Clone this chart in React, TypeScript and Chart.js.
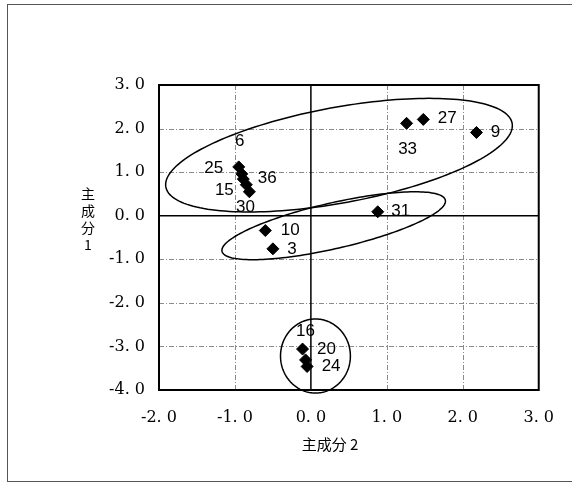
import React, { useEffect, useRef } from "react";
import { Chart, registerables } from "chart.js";

Chart.register(...registerables);

// sample numbers (principal component scores)
const sampleIds = ["6", "25", "36", "15", "30", "10", "3", "31", "33", "27", "9", "16", "20", "24"];
const pc2Values = [-0.95, -0.91, -0.89, -0.85, -0.81, -0.6, -0.5, 0.88, 1.26, 1.48, 2.18, -0.11, -0.07, -0.05];
const pc1Values = [1.12, 0.96, 0.84, 0.71, 0.55, -0.34, -0.76, 0.09, 2.12, 2.21, 1.91, -3.06, -3.31, -3.46];

// label placement (pixel offsets from each point) – styling only
const labelOffsets: [number, number][] = [
  [1, -26], [-28, -6], [24, -1], [-22, 6], [-4, 16], [25, 0], [19, 0],
  [23, 0], [1, 26], [24, -1], [19, 0], [3, -18], [21, -11], [24, 0],
];

// grouping ellipses in data units: center, conjugate semi-axis vectors
const groupCenters: [number, number][] = [[0.37, 1.39], [0.3, -0.23], [0.06, -3.22]];
const groupAxisU: [number, number][] = [[2.28, 0.73], [1.47, 0.59], [0.46, 0]];
const groupAxisV: [number, number][] = [[-0.11, 1.08], [-0.07, 0.51], [0, 0.85]];

const xMin = -2, xMax = 3, yMin = -4, yMax = 3;
const xTitle = "主成分 2";
const yTitleChars = ["主", "成", "分", "1"];

const fmt = (v: number) => {
  const s = v.toFixed(1);
  return s.replace(".", ". ");
};

const decorPlugin = {
  id: "decor",
  beforeDraw(chart: any) {
    const ctx = chart.ctx;
    ctx.save();
    ctx.fillStyle = "#fff";
    ctx.fillRect(0, 0, chart.width, chart.height);
    ctx.strokeStyle = "#555";
    ctx.lineWidth = 1;
    ctx.strokeRect(7.5, 4.5, chart.width + 10, 477);
    ctx.restore();
  },
  beforeDatasetsDraw(chart: any) {
    const ctx = chart.ctx;
    const xs = chart.scales.x;
    const ys = chart.scales.y;
    const a = chart.chartArea;
    ctx.save();
    // gridlines
    ctx.strokeStyle = "#8a8a8a";
    ctx.lineWidth = 1;
    ctx.setLineDash([5, 2, 1, 2]);
    for (let v = xMin + 1; v < xMax; v++) {
      if (v === 0) continue;
      const px = Math.round(xs.getPixelForValue(v)) + 0.5;
      ctx.beginPath();
      ctx.moveTo(px, a.top);
      ctx.lineTo(px, a.bottom);
      ctx.stroke();
    }
    for (let v = yMin + 1; v < yMax; v++) {
      if (v === 0) continue;
      const py = Math.round(ys.getPixelForValue(v)) + 0.5;
      ctx.beginPath();
      ctx.moveTo(a.left, py);
      ctx.lineTo(a.right, py);
      ctx.stroke();
    }
    ctx.setLineDash([]);
    // zero axes
    ctx.strokeStyle = "#000";
    ctx.lineWidth = 1.5;
    const x0 = xs.getPixelForValue(0);
    const y0 = ys.getPixelForValue(0);
    ctx.beginPath();
    ctx.moveTo(x0, a.top);
    ctx.lineTo(x0, a.bottom);
    ctx.moveTo(a.left, y0);
    ctx.lineTo(a.right, y0);
    ctx.stroke();
    // frame
    ctx.lineWidth = 2;
    ctx.strokeRect(a.left, a.top, a.right - a.left, a.bottom - a.top);
    // ellipses
    ctx.lineWidth = 1.5;
    for (let g = 0; g < groupCenters.length; g++) {
      const [cx, cy] = groupCenters[g];
      const [ux, uy] = groupAxisU[g];
      const [vx, vy] = groupAxisV[g];
      ctx.beginPath();
      for (let i = 0; i <= 180; i++) {
        const t = (i / 180) * Math.PI * 2;
        const dx = cx + ux * Math.cos(t) + vx * Math.sin(t);
        const dy = cy + uy * Math.cos(t) + vy * Math.sin(t);
        const px = xs.getPixelForValue(dx);
        const py = ys.getPixelForValue(dy);
        if (i === 0) ctx.moveTo(px, py);
        else ctx.lineTo(px, py);
      }
      ctx.closePath();
      ctx.stroke();
    }
    ctx.restore();
  },
  afterDatasetsDraw(chart: any) {
    const ctx = chart.ctx;
    const meta = chart.getDatasetMeta(0);
    ctx.save();
    ctx.fillStyle = "#000";
    ctx.font = '17px "Liberation Sans", Arial, sans-serif';
    ctx.textAlign = "center";
    ctx.textBaseline = "middle";
    meta.data.forEach((el: any, i: number) => {
      const [ox, oy] = labelOffsets[i];
      ctx.fillText(sampleIds[i], el.x + ox, el.y + oy);
    });
    // axis titles
    ctx.font = '15px "Noto Sans CJK JP", sans-serif';
    ctx.fillText(xTitle, 330, 444);
    ctx.font = '14px "Noto Sans CJK JP", sans-serif';
    const ys0 = [194, 211, 228, 245];
    yTitleChars.forEach((c, i) => ctx.fillText(c, 88, ys0[i]));
    ctx.restore();
  },
};

export default function App() {
  const ref = useRef<HTMLCanvasElement | null>(null);
  useEffect(() => {
    if (!ref.current) return;
    const chart = new Chart(ref.current, {
      type: "scatter",
      data: {
        datasets: [
          {
            data: pc2Values.map((x, i) => ({ x, y: pc1Values[i] })),
            pointStyle: "rectRot",
            pointRadius: 6,
            pointHoverRadius: 6,
            backgroundColor: "#000",
            borderColor: "#000",
            borderWidth: 1,
          },
        ],
      },
      options: {
        animation: false,
        responsive: false,
        devicePixelRatio: 1,
        layout: { padding: { left: 0, right: 31, top: 85, bottom: 0 } },
        plugins: { legend: { display: false }, tooltip: { enabled: false } },
        scales: {
          x: {
            type: "linear",
            min: xMin,
            max: xMax,
            ticks: {
              stepSize: 1,
              color: "#000",
              padding: 18,
              font: { family: '"DejaVu Serif", serif', size: 16 },
              callback: (v: any) => fmt(Number(v)),
            },
            grid: { display: false, drawTicks: false },
            border: { display: false },
            afterFit: (s: any) => {
              s.height = 93;
            },
          },
          y: {
            type: "linear",
            min: yMin,
            max: yMax,
            ticks: {
              stepSize: 1,
              color: "#000",
              padding: 14,
              font: { family: '"DejaVu Serif", serif', size: 16 },
              callback: (v: any) => fmt(Number(v)),
            },
            grid: { display: false, drawTicks: false },
            border: { display: false },
            afterFit: (s: any) => {
              s.width = 159;
            },
          },
        },
      },
      plugins: [decorPlugin],
    });
    return () => chart.destroy();
  }, []);
  return (
    <div style={{ position: "absolute", left: 0, top: 0 }}>
      <canvas ref={ref} width={572} height={483} />
    </div>
  );
}
